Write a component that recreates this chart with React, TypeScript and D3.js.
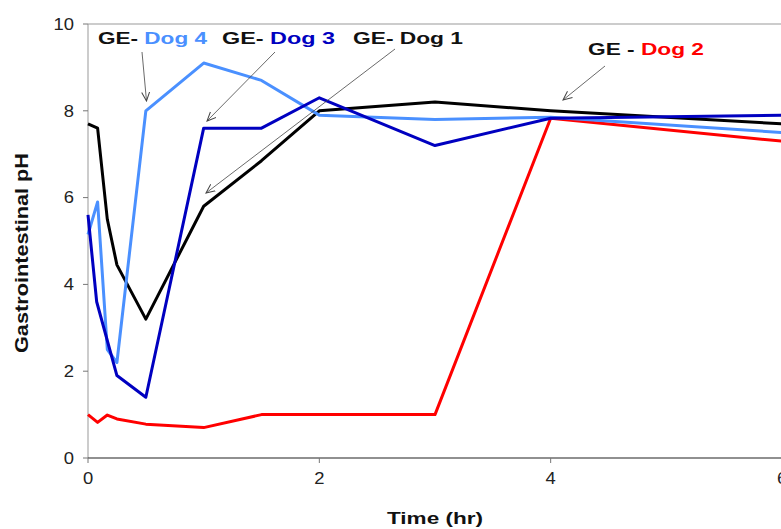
import React from "react";
import * as d3 from "d3";

const dog1X = [0, 0.083, 0.167, 0.25, 0.5, 1.0, 1.5, 2.0, 3.0, 4.0, 6.0];
const dog1Y = [7.7, 7.6, 5.5, 4.45, 3.2, 5.8, 6.85, 8.0, 8.2, 8.0, 7.7];

const dog2X = [0, 0.083, 0.167, 0.25, 0.5, 1.0, 1.5, 2.0, 3.0, 4.0, 6.0];
const dog2Y = [1.0, 0.82, 0.99, 0.9, 0.78, 0.7, 1.0, 1.0, 1.0, 7.83, 7.3];

const dog3X = [0, 0.075, 0.25, 0.5, 1.0, 1.5, 2.0, 3.0, 4.0, 6.0];
const dog3Y = [5.6, 3.6, 1.9, 1.4, 7.6, 7.6, 8.3, 7.2, 7.83, 7.9];

const dog4X = [0, 0.083, 0.167, 0.25, 0.5, 1.0, 1.5, 2.0, 3.0, 4.0, 6.0];
const dog4Y = [5.15, 5.9, 2.5, 2.2, 8.0, 9.1, 8.7, 7.9, 7.8, 7.85, 7.5];

const xTicks = [0, 2, 4, 6];
const yTicks = [0, 2, 4, 6, 8, 10];

const W = 781;
const H = 529;
const left = 88;
const right = 782;
const top = 24;
const bottom = 458;

export default function App() {
  const x = d3.scaleLinear().domain([0, 6]).range([left, right]);
  const y = d3.scaleLinear().domain([0, 10]).range([bottom, top]);
  const line = d3
    .line<[number, number]>()
    .x((d) => x(d[0]))
    .y((d) => y(d[1]));
  const pts = (xs: number[], ys: number[]) =>
    xs.map((v, i) => [v, ys[i]] as [number, number]);

  const series = [
    { xs: dog2X, ys: dog2Y, color: "#ff0000" },
    { xs: dog1X, ys: dog1Y, color: "#000000" },
    { xs: dog4X, ys: dog4Y, color: "#4a90ff" },
    { xs: dog3X, ys: dog3Y, color: "#0000c0" },
  ];

  const font = "Arial, 'Liberation Sans', sans-serif";

  const arrows = [
    { x1: 142, y1: 52, x2: 146.5, y2: 101 },
    { x1: 275, y1: 52, x2: 207, y2: 121 },
    { x1: 395, y1: 49, x2: 206, y2: 193 },
    { x1: 605, y1: 66, x2: 563, y2: 100 },
  ];

  return (
    <svg
      width={W}
      height={H}
      style={{ position: "absolute", left: 0, top: 0, background: "#fff" }}
      fontFamily={font}
    >
      <defs>
        <marker
          id="arr"
          viewBox="0 0 10 10"
          refX="9"
          refY="5"
          markerWidth="10"
          markerHeight="10"
          markerUnits="userSpaceOnUse"
          orient="auto"
        >
          <path d="M0,1 L9,5 L0,9" fill="none" stroke="#444" strokeWidth={1} />
        </marker>
      </defs>
      <rect x={0} y={0} width={W} height={H} fill="#fff" />
      <line x1={left} x2={W} y1={top} y2={top} stroke="#999" strokeWidth={1} />
      <line x1={left} x2={left} y1={top} y2={bottom} stroke="#999" strokeWidth={1} />
      <line x1={left} x2={W} y1={bottom} y2={bottom} stroke="#222" strokeWidth={1.2} />
      {yTicks.map((t) => (
        <g key={"y" + t}>
          <line x1={left - 5} x2={left} y1={y(t)} y2={y(t)} stroke="#777" />
          <text
            transform={`translate(${left - 14},${y(t)}) scale(1.15,1)`}
            dy="0.36em"
            textAnchor="end"
            fontSize={16}
            fill="#222"
          >
            {t}
          </text>
        </g>
      ))}
      {xTicks.map((t) => (
        <g key={"x" + t}>
          <line x1={x(t)} x2={x(t)} y1={bottom} y2={bottom + 5} stroke="#777" />
          <text
            transform={`translate(${x(t)},${bottom + 26}) scale(1.15,1)`}
            textAnchor="middle"
            fontSize={16}
            fill="#222"
          >
            {t}
          </text>
        </g>
      ))}
      <text
        x={387}
        y={524}
        fontSize={17}
        fontWeight="bold"
        fill="#111"
        textLength={96}
        lengthAdjust="spacingAndGlyphs"
      >
        Time (hr)
      </text>
      <text
        transform={`translate(28,353) rotate(-90)`}
        fontSize={18}
        fontWeight="bold"
        fill="#111"
        textLength={200}
        lengthAdjust="spacingAndGlyphs"
      >
        Gastrointestinal pH
      </text>
      {series.map((s, i) => (
        <path
          key={i}
          d={line(pts(s.xs, s.ys)) || ""}
          fill="none"
          stroke={s.color}
          strokeWidth={3}
          strokeLinejoin="round"
        />
      ))}
      {arrows.map((a, i) => (
        <line
          key={"a" + i}
          x1={a.x1}
          y1={a.y1}
          x2={a.x2}
          y2={a.y2}
          stroke="#444"
          strokeWidth={0.8}
          markerEnd="url(#arr)"
        />
      ))}
      <g fontSize={17} fontWeight="bold">
        <text x={98} y={44} textLength={109} lengthAdjust="spacingAndGlyphs">
          <tspan fill="#111">GE- </tspan>
          <tspan fill="#4a90ff">Dog 4</tspan>
        </text>
        <text x={222} y={44} textLength={113} lengthAdjust="spacingAndGlyphs">
          <tspan fill="#111">GE- </tspan>
          <tspan fill="#0000c0">Dog 3</tspan>
        </text>
        <text x={353} y={44} textLength={110} lengthAdjust="spacingAndGlyphs">
          <tspan fill="#111">GE- Dog 1</tspan>
        </text>
        <text x={588} y={55} textLength={116} lengthAdjust="spacingAndGlyphs">
          <tspan fill="#111">GE - </tspan>
          <tspan fill="#ff0000">Dog 2</tspan>
        </text>
      </g>
    </svg>
  );
}
